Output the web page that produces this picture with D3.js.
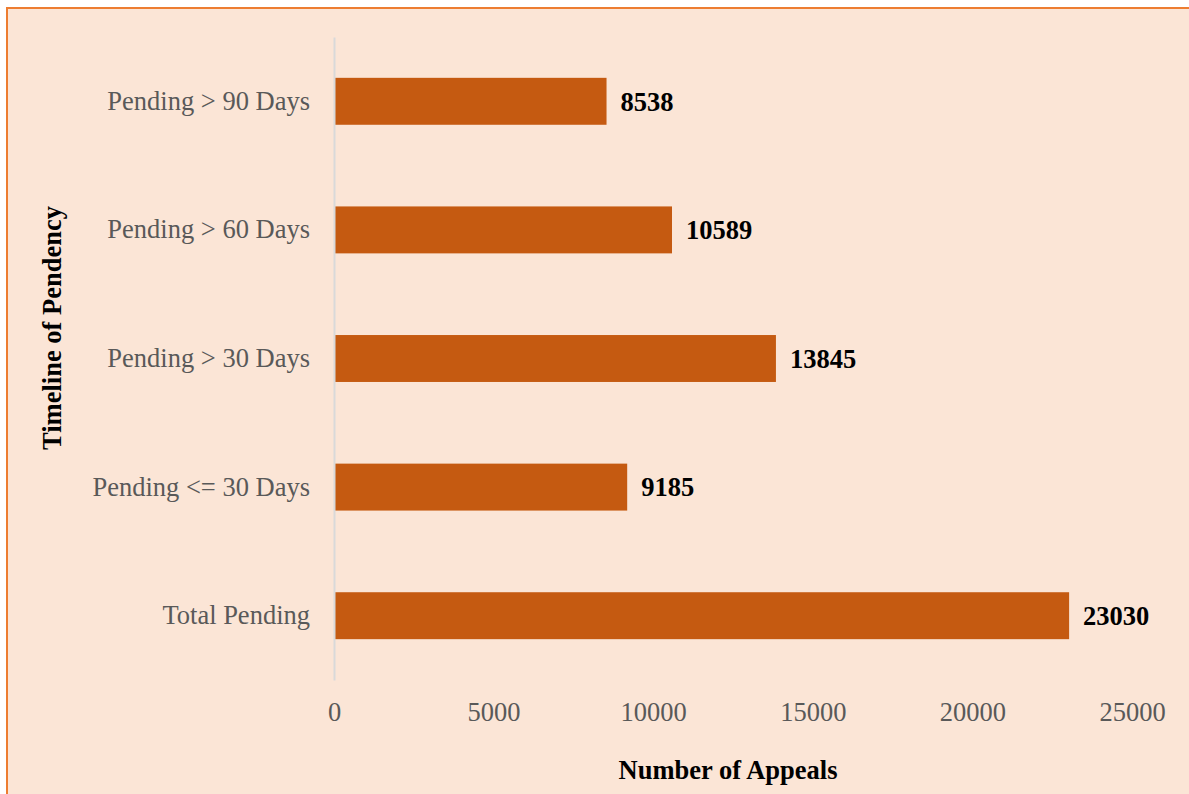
<!DOCTYPE html>
<html>
<head>
<meta charset="utf-8">
<script src="https://cdn.jsdelivr.net/npm/d3@7"></script>
<style>
  body { margin: 0; background: #fff; }
  svg { display: block; }
  text { font-family: 'Liberation Serif', 'Times New Roman', serif; }
</style>
</head>
<body>
<script>
const categories = ['Pending > 90 Days', 'Pending > 60 Days', 'Pending > 30 Days', 'Pending <= 30 Days', 'Total Pending'];
const appeals = [8538, 10589, 13845, 9185, 23030];
const xTicks = [0, 5000, 10000, 15000, 20000, 25000];

const w = 1189;
const h = 794;
const padL = 334, padR = 1132, padT = 37, padB = 680;

const svg = d3.select('body')
    .append('svg')
    .attr('width', w)
    .attr('height', h)

// chart area background + border
svg.append('rect')
    .attr('x', 7)
    .attr('y', 8)
    .attr('width', w)
    .attr('height', h)
    .attr('fill', '#FBE5D6')
    .attr('stroke', '#ED7D31')
    .attr('stroke-width', 2)

const dataset = categories.map((c, i) => ({ cat: c, value: appeals[i] }));

const xScale = d3.scaleLinear()
    .domain([0, 25000])
    .range([padL, padR])

const yScale = d3.scaleBand()
    .domain(categories)
    .range([padT, padB])
    .paddingInner(0.635)
    .paddingOuter(0.3175)

svg.selectAll('rect.bar')
    .data(dataset)
    .enter()
    .append('rect')
    .attr('class', 'bar')
    .attr('x', xScale(0))
    .attr('y', d => yScale(d.cat))
    .attr('width', d => xScale(d.value) - xScale(0))
    .attr('height', yScale.bandwidth())
    .attr('fill', '#C55A11')

svg.selectAll('text.val')
    .data(dataset)
    .enter()
    .append('text')
    .attr('class', 'val')
    .attr('x', d => xScale(d.value) + 14)
    .attr('y', d => yScale(d.cat) + yScale.bandwidth() / 2)
    .attr('dy', '0.35em')
    .attr('font-weight', 'bold')
    .attr('font-size', 26.5)
    .attr('fill', '#000')
    .text(d => d.value)

// y axis
const yAxis = d3.axisLeft(yScale).tickSize(0).tickPadding(24)
const gy = svg.append('g')
    .attr('transform', 'translate(' + padL + ',0)')
    .call(yAxis)
gy.select('.domain').attr('stroke', '#D9D9D9').attr('stroke-width', 2)
gy.selectAll('text')
    .attr('font-family', null)
    .attr('font-size', 26.5)
    .attr('fill', '#595959')

// x axis (labels only)
const xAxis = d3.axisBottom(xScale).tickValues(xTicks).tickFormat(d3.format('d')).tickSize(0).tickPadding(22)
const gx = svg.append('g')
    .attr('transform', 'translate(0,' + padB + ')')
    .call(xAxis)
gx.select('.domain').remove()
gx.selectAll('text')
    .attr('font-family', null)
    .attr('font-size', 26.5)
    .attr('fill', '#595959')

svg.append('text')
    .attr('x', 728)
    .attr('y', 779)
    .attr('text-anchor', 'middle')
    .attr('font-weight', 'bold')
    .attr('font-size', 26.5)
    .text('Number of Appeals')

svg.append('text')
    .attr('transform', 'translate(61,328) rotate(-90)')
    .attr('text-anchor', 'middle')
    .attr('font-weight', 'bold')
    .attr('font-size', 26.5)
    .text('Timeline of Pendency')
</script>
</body>
</html>
